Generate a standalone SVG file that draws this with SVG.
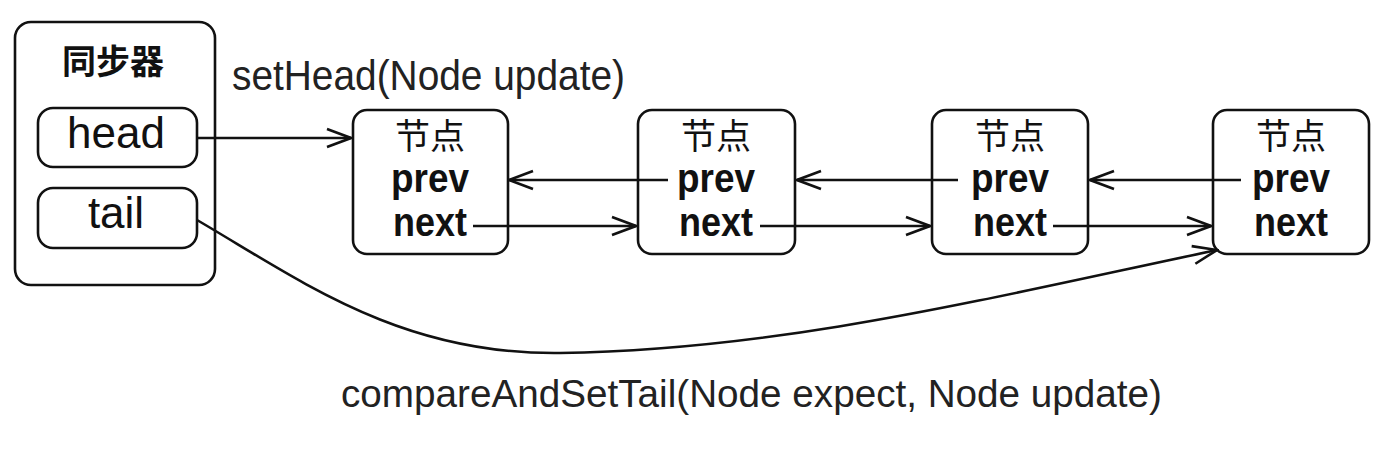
<svg xmlns="http://www.w3.org/2000/svg" width="1384" height="452" viewBox="0 0 1384 452">
<style>
  .box { fill: #fff; stroke: #111; stroke-width: 2.6; }
  .cjk { font-family: "Noto Sans CJK SC", sans-serif; fill: #111; text-anchor: middle; }
  .field { font-family: "Liberation Sans", Arial, sans-serif; font-size: 44px; fill: #111; text-anchor: middle; }
  .bold { font-family: "Liberation Sans", Arial, sans-serif; font-weight: bold; font-size: 40px; fill: #111; text-anchor: middle; }
  .label { font-family: "Liberation Sans", Arial, sans-serif; fill: #222; }
  .conn { fill: none; stroke: #111; stroke-width: 2.6; marker-end: url(#arrow); }
</style>
<defs>
  <marker id="arrow" viewBox="0 0 28 22" refX="26" refY="11" markerWidth="28" markerHeight="22" markerUnits="userSpaceOnUse" orient="auto">
    <path d="M2,2 L26,11 L2,20" fill="none" stroke="#111" stroke-width="2.6"/>
  </marker>
</defs>
<rect width="1384" height="452" fill="#fff"/>

<g id="sync">
  <rect class="box" x="15" y="22" width="200" height="263" rx="16"/>
  <text class="cjk" x="113" y="74" font-size="34" font-weight="bold">同步器</text>
  <g id="head-field">
    <rect class="box" x="38" y="108" width="159" height="59" rx="15"/>
    <text class="field" x="116" y="148">head</text>
  </g>
  <g id="tail-field">
    <rect class="box" x="38" y="188" width="159" height="60" rx="15"/>
    <text class="field" x="116" y="228">tail</text>
  </g>
</g>

<g id="node1">
  <rect class="box" x="353" y="110" width="155" height="144" rx="14"/>
  <text class="cjk" x="430" y="149" font-size="35" font-weight="normal">节点</text>
  <text class="bold" x="430" y="192" textLength="78" lengthAdjust="spacingAndGlyphs">prev</text>
  <text class="bold" x="430" y="236" textLength="74" lengthAdjust="spacingAndGlyphs">next</text>
</g>
<g id="node2">
  <rect class="box" x="638" y="110" width="157" height="144" rx="14"/>
  <text class="cjk" x="716" y="149" font-size="35" font-weight="normal">节点</text>
  <text class="bold" x="716" y="192" textLength="78" lengthAdjust="spacingAndGlyphs">prev</text>
  <text class="bold" x="716" y="236" textLength="74" lengthAdjust="spacingAndGlyphs">next</text>
</g>
<g id="node3">
  <rect class="box" x="932" y="110" width="156" height="144" rx="14"/>
  <text class="cjk" x="1010" y="149" font-size="35" font-weight="normal">节点</text>
  <text class="bold" x="1010" y="192" textLength="78" lengthAdjust="spacingAndGlyphs">prev</text>
  <text class="bold" x="1010" y="236" textLength="74" lengthAdjust="spacingAndGlyphs">next</text>
</g>
<g id="node4">
  <rect class="box" x="1213" y="110" width="156" height="144" rx="14"/>
  <text class="cjk" x="1291" y="149" font-size="35" font-weight="normal">节点</text>
  <text class="bold" x="1291" y="192" textLength="78" lengthAdjust="spacingAndGlyphs">prev</text>
  <text class="bold" x="1291" y="236" textLength="74" lengthAdjust="spacingAndGlyphs">next</text>
</g>

<g id="connectors">
  <path class="conn" d="M197,138 L351,138"/>
  <path class="conn" d="M668,180 L509,180"/>
  <path class="conn" d="M958,180 L797,180"/>
  <path class="conn" d="M1241,180 L1090,180"/>
  <path class="conn" d="M473,226 L636,226"/>
  <path class="conn" d="M760,226 L930,226"/>
  <path class="conn" d="M1053,226 L1211,226"/>
  <path class="conn" d="M197,220 C300,280 400,355 560,353 C780,350 980,300 1217,250"/>
</g>

<g id="labels">
  <text class="label" x="232" y="90" font-size="42" textLength="393" lengthAdjust="spacingAndGlyphs">setHead(Node update)</text>
  <text class="label" x="341" y="407" font-size="38" textLength="821" lengthAdjust="spacingAndGlyphs">compareAndSetTail(Node expect, Node update)</text>
</g>
</svg>
